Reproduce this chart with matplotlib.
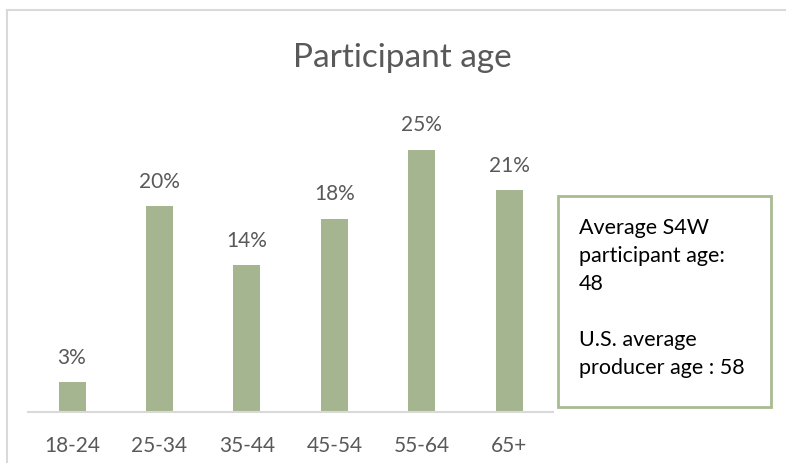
import matplotlib
matplotlib.use("Agg")
import matplotlib.pyplot as plt
from matplotlib.patches import Rectangle
from matplotlib.lines import Line2D

categories = ["18-24", "25-34", "35-44", "45-54", "55-64", "65+"]
values = [2.8, 19.6, 14.0, 18.4, 25.0, 21.1]
labels = ["3%", "20%", "14%", "18%", "25%", "21%"]
title = "Participant age"
box_text = "Average S4W\nparticipant age:\n48\n\nU.S. average\nproducer age : 58"

W, H = 786, 464
fig = plt.figure(figsize=(W / 100, H / 100), dpi=100)
plt.rcParams['font.family'] = ['Lato', 'DejaVu Sans']

bar_color = "#A5B590"
text_color = "#595959"

# axes: left 28.3, right 553, baseline 412.7
ax_left, ax_right = 28.3, 553.0
base_y = 412.7
top_y = 30.0
ax = fig.add_axes([ax_left / W, 1 - base_y / H, (ax_right - ax_left) / W, (base_y - top_y) / H])
x = list(range(len(categories)))
ax.bar(x, values, width=27 / 87.45, color=bar_color, edgecolor="none")
ax.set_xlim(-0.5, len(categories) - 0.5)
ax.set_ylim(0, 25.0 * (base_y - top_y) / (base_y - 150.5))
for s in ["top", "right", "left"]:
    ax.spines[s].set_visible(False)
ax.spines["bottom"].set_color("#D9D9D9")
ax.spines["bottom"].set_linewidth(1.5)
ax.set_yticks([])
ax.set_xticks(x)
ax.set_xticklabels(categories, fontsize=15, color=text_color)
ax.tick_params(axis="x", length=0, pad=17)
for xi, v, lab in zip(x, values, labels):
    ax.annotate(lab, (xi, v), xytext=(0, 11), textcoords="offset points",
                ha="center", va="bottom", fontsize=15, color=text_color)

fig.text(402 / W, 1 - 58 / H, title, ha="center", va="center", fontsize=24, color=text_color)

# outer chart border (left and top visible)
fig.add_artist(Line2D([7 / W, 7 / W], [0, 1 - 11 / H], transform=fig.transFigure,
                      color="#D9D9D9", lw=1.5))
fig.add_artist(Line2D([7 / W, 1], [1 - 11 / H, 1 - 11 / H], transform=fig.transFigure,
                      color="#D9D9D9", lw=1.5))

# text box
bx0, by0, bx1, by1 = 558, 197, 771, 408
fig.add_artist(Rectangle((bx0 / W, 1 - by1 / H), (bx1 - bx0) / W, (by1 - by0) / H,
                         transform=fig.transFigure, facecolor="white",
                         edgecolor="#A9BB91", lw=2))
fig.text(579 / W, 1 - 218 / H, box_text, ha="left", va="top", fontsize=15.5,
         color="black", linespacing=1.5)

fig.savefig("out.png", dpi=100)
